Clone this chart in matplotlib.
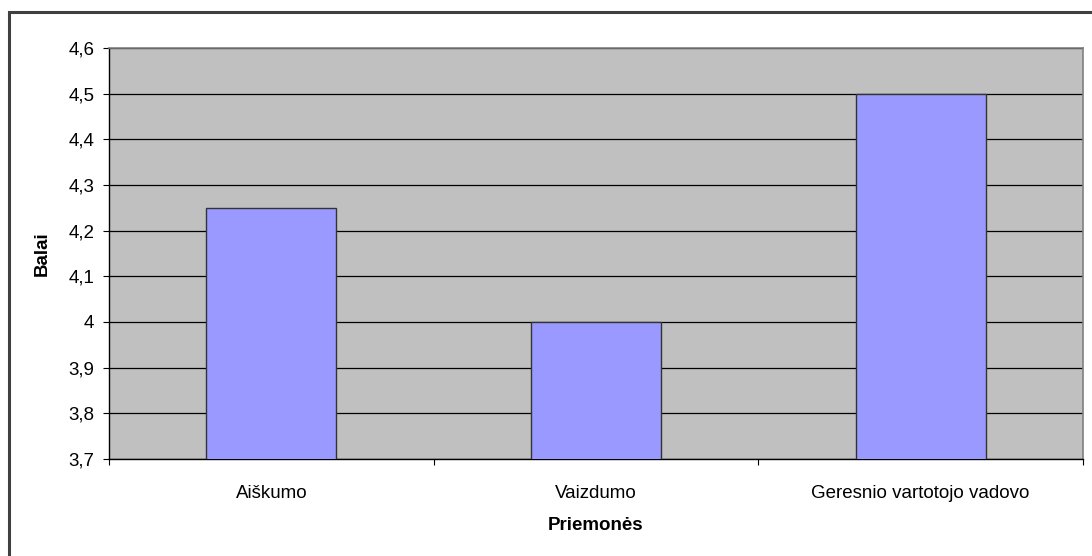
import matplotlib.pyplot as plt
from matplotlib.patches import Rectangle

# Data
categories = ["Aiškumo", "Vaizdumo", "Geresnio vartotojo vadovo"]
values = [4.25, 4.0, 4.5]
y_ticks = [3.7, 3.8, 3.9, 4.0, 4.1, 4.2, 4.3, 4.4, 4.5, 4.6]
y_labels = ["3,7", "3,8", "3,9", "4", "4,1", "4,2", "4,3", "4,4", "4,5", "4,6"]

plt.rcParams['font.family'] = ['Liberation Sans', 'DejaVu Sans']
FS = 13.5

fig = plt.figure(figsize=(10.92, 5.56), dpi=100)
W, H = 1092, 556

# outer chart border (only left/top visible in the reference)
fig.patches.append(Rectangle((9 / W, -0.1), 1.2, 1 - 11.5 / H + 0.1,
                             transform=fig.transFigure, fill=False,
                             edgecolor="#404040", linewidth=2.2))

ax = fig.add_axes([109 / W, 1 - 459 / H, (1083 - 109) / W, (459 - 48) / H])
ax.set_facecolor("#C0C0C0")

x = range(len(categories))
ax.bar(x, values, width=0.4, color="#9999FF", edgecolor="#333333",
       linewidth=1.0, zorder=3)

ax.set_ylim(3.7, 4.6)
ax.set_xlim(-0.5, len(categories) - 0.5)
ax.set_yticks(y_ticks)
ax.set_yticklabels(y_labels, fontsize=FS)
ax.yaxis.grid(True, color="black", linewidth=0.9, zorder=1)
ax.set_axisbelow(True)

# category ticks between groups
ax.set_xticks([i - 0.5 for i in range(len(categories) + 1)], minor=False)
ax.set_xticklabels([""] * (len(categories) + 1))
ax.set_xticks(list(x), minor=True)
ax.set_xticklabels(categories, minor=True, fontsize=FS)
ax.tick_params(axis="x", which="minor", length=0, pad=18.5)
ax.tick_params(axis="x", which="major", length=4.5, direction="out", width=0.8)
ax.tick_params(axis="y", length=4.5, direction="out", width=0.8, pad=6)

for side in ["top", "right"]:
    ax.spines[side].set_color("#808080")
    ax.spines[side].set_linewidth(1.2)
for side in ["left", "bottom"]:
    ax.spines[side].set_color("black")
    ax.spines[side].set_linewidth(1.0)

ax.set_ylabel("Balai", fontsize=FS, fontweight="bold", labelpad=13)
ax.set_xlabel("Priemonės", fontsize=FS, fontweight="bold", labelpad=11)

fig.savefig("out.png", dpi=100)
